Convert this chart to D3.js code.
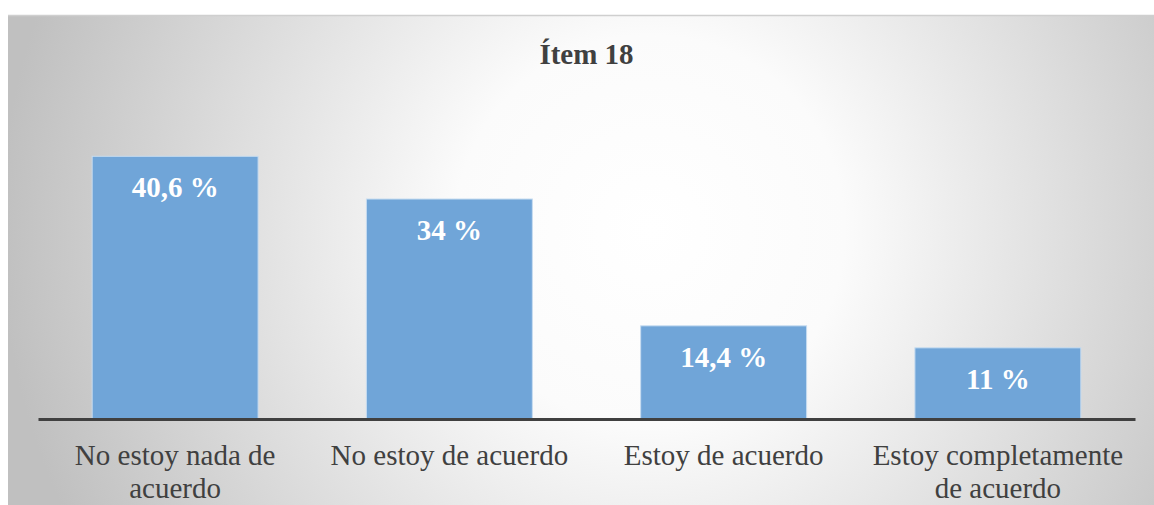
<!DOCTYPE html>
<html>
<head>
<meta charset="utf-8">
<script src="https://cdn.jsdelivr.net/npm/d3@7"></script>
<style>
  body { margin: 0; background: #fff; }
  svg { display: block; }
</style>
</head>
<body>
<div id="chart"></div>
<script>
// datos del gráfico
const categories = ["No estoy nada de acuerdo", "No estoy de acuerdo", "Estoy de acuerdo", "Estoy completamente de acuerdo"];
const values = [40.6, 34, 14.4, 11];
const valueLabels = ["40,6 %", "34 %", "14,4 %", "11 %"];
const tickLines = [["No estoy nada de", "acuerdo"], ["No estoy de acuerdo"], ["Estoy de acuerdo"], ["Estoy completamente", "de acuerdo"]];
const title = "Ítem 18";

const width = 1154;
const height = 505;
const serif = "Liberation Serif";

const svg = d3.select("#chart").append("svg")
  .attr("width", width)
  .attr("height", height);

// fondo con degradado radial
const grad = svg.append("defs").append("radialGradient")
  .attr("id", "bg")
  .attr("gradientUnits", "userSpaceOnUse")
  .attr("cx", 650).attr("cy", 230).attr("r", 650);
grad.append("stop").attr("offset", "0").attr("stop-color", "#ffffff");
grad.append("stop").attr("offset", "0.3").attr("stop-color", "#fbfbfb");
grad.append("stop").attr("offset", "1").attr("stop-color", "#c0c0c0");

svg.append("rect")
  .attr("x", 8).attr("y", 15)
  .attr("width", width - 8).attr("height", height - 15)
  .attr("fill", "url(#bg)");
svg.append("line")
  .attr("x1", 8).attr("x2", width)
  .attr("y1", 15.5).attr("y2", 15.5)
  .attr("stroke", "#cfcfcf").attr("stroke-width", 1.5);

// escalas
const x = d3.scaleBand()
  .domain(categories)
  .range([38, 1135])
  .paddingInner(0.395)
  .paddingOuter(0.1975);

const y = d3.scaleLinear()
  .domain([0, 45])
  .range([419, 419 - 6.47 * 45]);

// barras
svg.append("g").selectAll("rect")
  .data(values)
  .join("rect")
  .attr("x", (d, i) => x(categories[i]))
  .attr("y", d => y(d))
  .attr("width", x.bandwidth())
  .attr("height", d => y(0) - y(d))
  .attr("fill", "#70a5d8")
  .attr("stroke", "#c6dcf0")
  .attr("stroke-width", 1);

// etiquetas de valor
svg.append("g").selectAll("text")
  .data(values)
  .join("text")
  .attr("x", (d, i) => x(categories[i]) + x.bandwidth() / 2)
  .attr("y", d => y(d) + 41)
  .attr("text-anchor", "middle")
  .attr("font-family", serif)
  .attr("font-weight", "bold")
  .attr("font-size", 29)
  .attr("fill", "#ffffff")
  .text((d, i) => valueLabels[i]);

// eje x
const xAxis = svg.append("g")
  .attr("transform", "translate(0,419)")
  .call(d3.axisBottom(x).tickSize(0).tickSizeOuter(0));
xAxis.select(".domain")
  .attr("stroke", "#404040")
  .attr("stroke-width", 3);
xAxis.selectAll(".tick text").remove();
xAxis.selectAll(".tick").each(function(d, i) {
  const t = d3.select(this).append("text")
    .attr("fill", "#404040")
    .attr("font-family", serif)
    .attr("font-size", 29)
    .attr("text-anchor", "middle");
  tickLines[i].forEach((line, k) => {
    t.append("tspan").attr("x", 0).attr("y", 46 + k * 33).text(line);
  });
});

// título
svg.append("text")
  .attr("x", (x.range()[0] + x.range()[1]) / 2)
  .attr("y", 64)
  .attr("text-anchor", "middle")
  .attr("font-family", serif)
  .attr("font-weight", "bold")
  .attr("font-size", 29)
  .attr("fill", "#404040")
  .text(title);
</script>
</body>
</html>
